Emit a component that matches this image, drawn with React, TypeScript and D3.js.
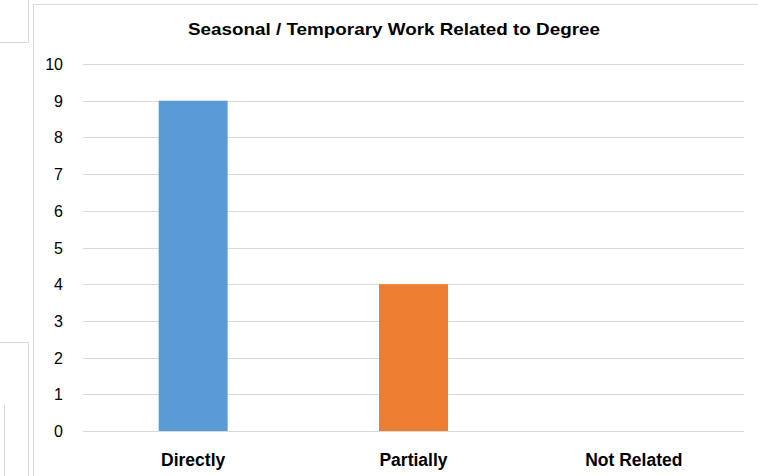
import React from "react";
import * as d3 from "d3";

const categories = ["Directly", "Partially", "Not Related"];
const counts = [9, 4, 0];
const barColors = ["#5b9bd5", "#ed7d31", "#a5a5a5"];
const yTicks = [0, 1, 2, 3, 4, 5, 6, 7, 8, 9, 10];
const title = "Seasonal / Temporary Work Related to Degree";

export default function App() {
  const width = 758;
  const height = 476;
  const plot = { left: 83, right: 744, top: 64, bottom: 431 };

  const x = d3
    .scaleBand<string>()
    .domain(categories)
    .range([plot.left, plot.right])
    .paddingInner(0.687)
    .paddingOuter(0.3435);

  const y = d3.scaleLinear().domain([0, 10]).range([plot.bottom, plot.top]);

  const font = "'Liberation Sans', Arial, sans-serif";

  return (
    <svg
      width={width}
      height={height}
      style={{ position: "absolute", left: 0, top: 0, background: "#fff" }}
    >
      {/* bits of neighbouring charts on the left */}
      <path d="M0,42.5 H28.5 V0" fill="none" stroke="#d9d9d9" />
      <path d="M0,342.5 H28.5 V476" fill="none" stroke="#d9d9d9" />
      <path d="M4.5,405 V476" fill="none" stroke="#d9d9d9" />

      {/* chart frame */}
      <rect x={33.5} y={4.5} width={760} height={500} fill="#fff" stroke="#d9d9d9" />

      <text
        x={394}
        y={35}
        textAnchor="middle"
        fontFamily={font}
        fontWeight="bold"
        fontSize={17}
        textLength={412}
        lengthAdjust="spacingAndGlyphs"
        fill="#000"
      >
        {title}
      </text>

      {yTicks.map((t) => (
        <g key={t}>
          <line
            x1={plot.left}
            x2={plot.right}
            y1={Math.round(y(t)) + 0.5}
            y2={Math.round(y(t)) + 0.5}
            stroke="#d9d9d9"
          />
          <text
            x={63}
            y={y(t) + 6}
            textAnchor="end"
            fontFamily={font}
            fontSize={16}
            fill="#000"
          >
            {t}
          </text>
        </g>
      ))}

      {categories.map((c, i) => (
        <g key={c}>
          {counts[i] > 0 && (
            <rect
              x={x(c)}
              y={y(counts[i])}
              width={x.bandwidth()}
              height={y(0) - y(counts[i])}
              fill={barColors[i]}
            />
          )}
          <text
            x={(x(c) ?? 0) + x.bandwidth() / 2}
            y={466}
            textAnchor="middle"
            fontFamily={font}
            fontWeight="bold"
            fontSize={17.5}
            fill="#000"
          >
            {c}
          </text>
        </g>
      ))}
    </svg>
  );
}
